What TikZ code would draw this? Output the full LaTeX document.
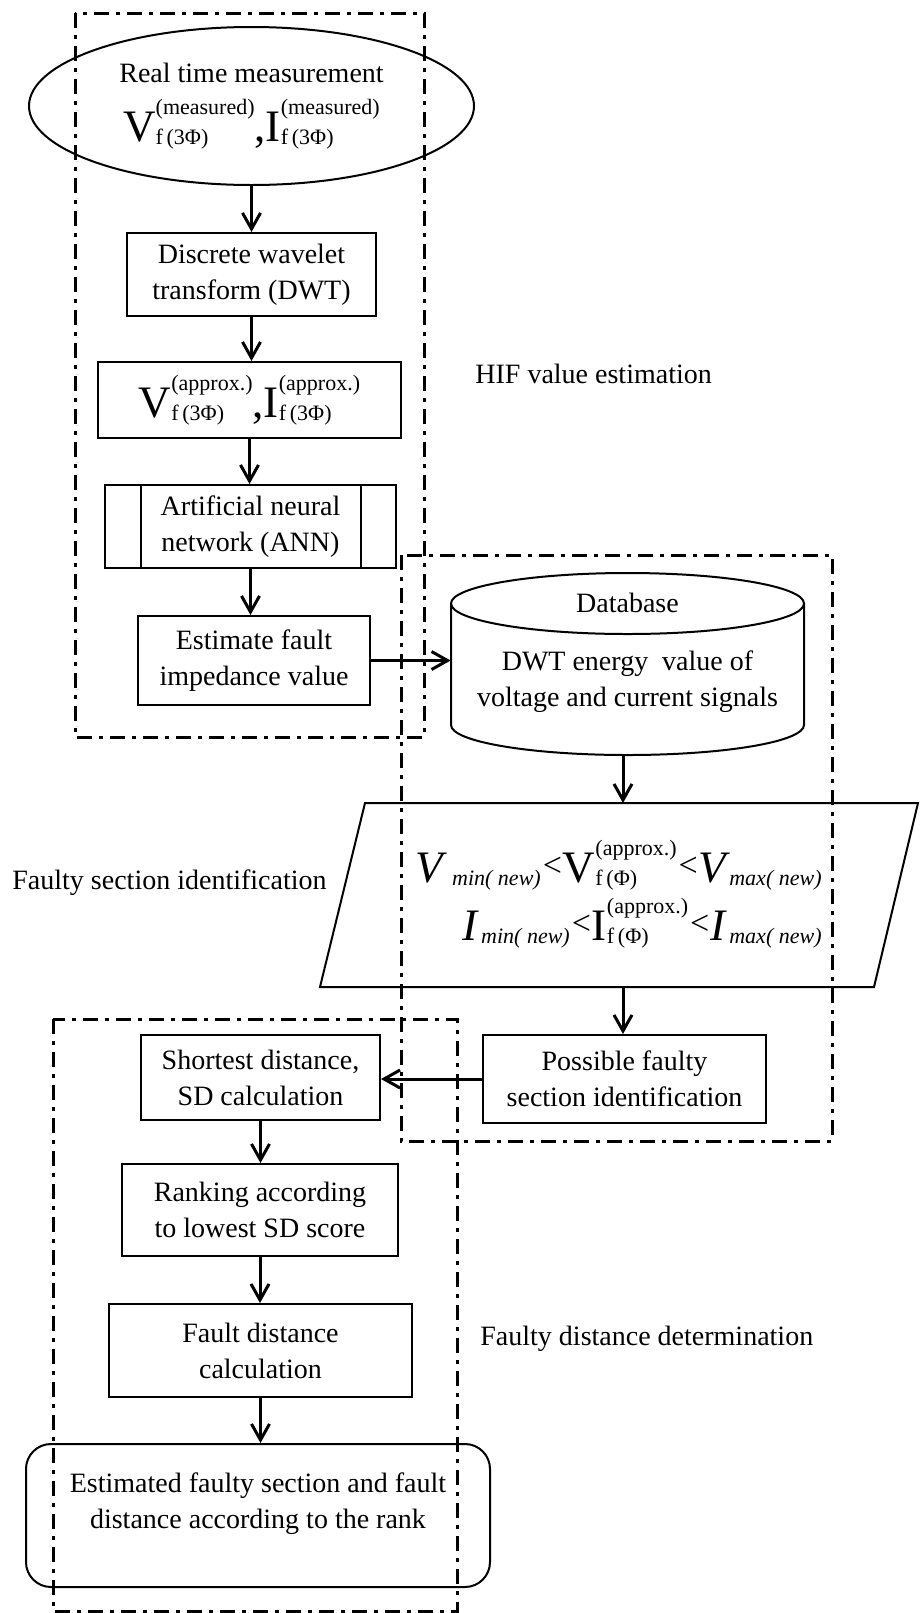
\documentclass[tikz,border=0pt]{standalone}
\usepackage{fontspec}
\setmainfont{Liberation Serif}
\usetikzlibrary{arrows.meta,shapes.geometric}
\newcommand{\BigT}[1]{{\fontsize{22.5}{22.5}\selectfont #1}}
\newcommand{\SupSub}[2]{%
  \setbox0\hbox{\fontsize{11}{11}\selectfont #1}%
  \setbox2\hbox{\fontsize{11}{11}\selectfont #2}%
  \dimen0=\wd0 \ifdim\wd2>\dimen0 \dimen0=\wd2 \fi
  \hbox to \dimen0{\rlap{\raise13.5pt\box0}\lower1.5pt\box2\hfil}}
\newcommand{\ItSub}[2]{\kern#1\lower1.5pt\hbox{\fontsize{11}{11}\selectfont\itshape #2}}
\newcommand{\LessT}{\kern1pt\raise3pt\hbox{\fontsize{17}{17}\selectfont <}\kern0.5pt}
\tikzset{
  box/.style={draw, line width=1pt, inner sep=0pt, align=center, font=\fontsize{14}{18}\selectfont},
  txt/.style={inner sep=0pt, align=center, font=\fontsize{14}{18}\selectfont},
  shp/.style={line width=1pt},
  frame/.style={line width=1.5pt, dash pattern=on 7.5pt off 3.5pt on 2pt off 3.5pt},
  arr/.style={line width=1.5pt, -{Straight Barb[length=8pt,width=9pt,line width=1.5pt]}}
}
\begin{document}
\begin{tikzpicture}[x=0.5pt,y=-0.5pt]
\useasboundingbox (0,0) rectangle (920,1613);
% frames
\draw[frame] (75,13) rectangle (424,737);
\draw[frame] (401,555) rectangle (832,1141);
\draw[frame] (53,1019) rectangle (457,1611);
% top ellipse
\node[draw, ellipse, line width=1pt, inner sep=0pt, minimum width=222.5pt, minimum height=79pt, align=center, font=\fontsize{14}{18}\selectfont] (meas) at (251.5,106)
 {Real time measurement\\[7.5pt]\BigT{V}\SupSub{(measured)}{f\,(3Φ)}\BigT{,I}\SupSub{(measured)}{f\,(3Φ)}};
\node[box, minimum width=124.5pt, minimum height=41.5pt] (dwt) at (251.5,274.5) {Discrete wavelet\\transform (DWT)};
\node[box, minimum width=151.5pt, minimum height=38pt] (apx) at (249.5,400)
 {\BigT{V}\SupSub{(approx.)}{f\,(3Φ)}\BigT{,I}\SupSub{(approx.)}{f\,(3Φ)}};
\node[box, minimum width=145.5pt, minimum height=41.5pt] (ann) at (250.5,526.5) {Artificial neural\\network (ANN)};
\draw[shp] ([xshift=18.5pt]ann.north west) -- ([xshift=18.5pt]ann.south west);
\draw[shp] ([xshift=-18pt]ann.north east) -- ([xshift=-18pt]ann.south east);
\node[box, minimum width=116pt, minimum height=44.5pt] (est) at (254,660.5) {Estimate fault\\impedance value};
% database cylinder
\node[inner sep=0pt, minimum width=176.5pt, minimum height=91pt] (db) at (627.5,664) {};
\draw[shp] (627.5,603.5) ellipse [x radius=88.25pt, y radius=15.25pt];
\draw[shp] (451,603.5) -- (451,725) arc[start angle=180, end angle=360, x radius=88.25pt, y radius=15pt] -- (804,603.5);
\node[txt] (dbt) at (627.5,603) {Database};
\node[txt] (dbv) at (627.5,682) {DWT energy\ \ value of\\voltage and current signals};
% parallelogram
\draw[shp] (365,803) -- (918,803) -- (874,987) -- (320,987) -- cycle;
\coordinate (parT) at (623,803);
\coordinate (parB) at (623,987);
\node[inner sep=0pt, anchor=base east] (f1) at (822,882)
 {\BigT{\itshape V}\ItSub{4.5pt}{min( new)}\LessT\BigT{V}\SupSub{(approx.)}{f\,(Φ)}\LessT\BigT{\itshape V}\ItSub{1.5pt}{max( new)}};
\node[inner sep=0pt, anchor=base east] (f2) at (822,940)
 {\BigT{\itshape I}\ItSub{2pt}{min( new)}\LessT\BigT{I}\SupSub{(approx.)}{f\,(Φ)}\LessT\BigT{\itshape I}\ItSub{2pt}{max( new)}};
% lower boxes
\node[box, minimum width=141.5pt, minimum height=44pt] (pos) at (624.5,1079) {Possible faulty\\section identification};
\node[box, minimum width=119.5pt, minimum height=42.5pt] (sd) at (260.5,1077.5) {Shortest distance,\\SD calculation};
\node[box, minimum width=138pt, minimum height=46pt] (rank) at (260,1210) {Ranking according\\to lowest SD score};
\node[box, minimum width=151.5pt, minimum height=46.5pt] (fd) at (260.5,1350.5) {Fault distance\\calculation};
\node[draw, line width=1pt, rounded corners=12.5pt, inner sep=0pt, minimum width=232pt, minimum height=71.5pt] (fin) at (258,1515.5) {};
\node[txt] (fintxt) at (258,1504) {Estimated faulty section and fault\\distance according to the rank};
% labels
\node[txt, anchor=west] (hif) at (475,374) {HIF value estimation};
\node[txt, anchor=west] (fsi) at (12,883) {Faulty section identification};
\node[txt, anchor=west] (fdd) at (480,1339) {Faulty distance determination};
% arrows
\draw[arr] (meas.south) -- (meas.south |- dwt.north);
\draw[arr] (dwt.south) -- (dwt.south |- apx.north);
\draw[arr] (apx.south) -- (apx.south |- ann.north);
\draw[arr] (ann.south) -- (ann.south |- est.north);
\draw[arr] (est.east) -- (est.east -| db.west);
\draw[arr] (db.south -| parT) -- (parT);
\draw[arr] (parB) -- (parB |- pos.north);
\draw[arr] (pos.west) -- (pos.west -| sd.east);
\draw[arr] (sd.south) -- (sd.south |- rank.north);
\draw[arr] (rank.south) -- (rank.south |- fd.north);
\draw[arr] (fd.south) -- (fd.south |- fin.north);
\end{tikzpicture}
\end{document}
